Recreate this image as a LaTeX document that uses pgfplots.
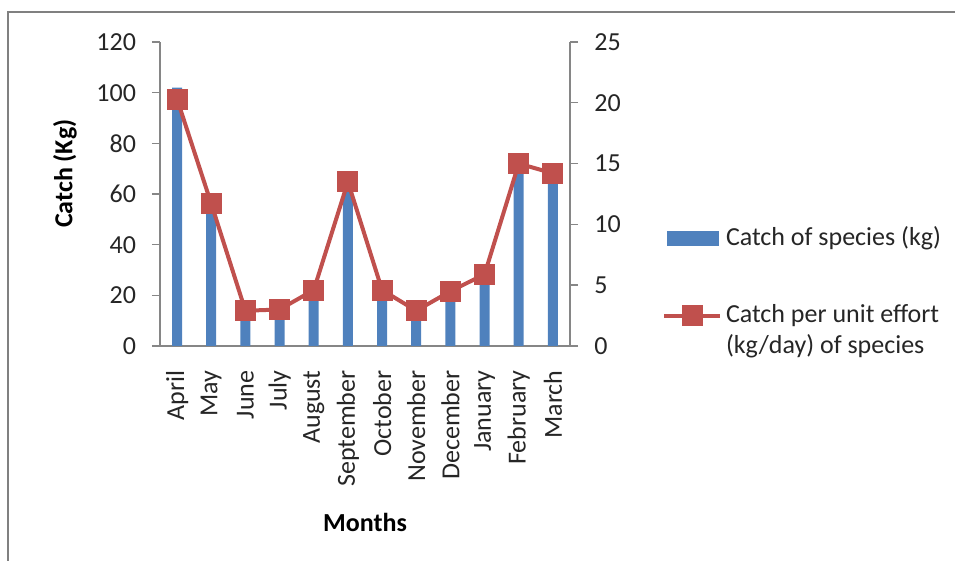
\documentclass[border=0pt]{standalone}
\usepackage{fontspec}
\setmainfont{Carlito}
\usepackage{pgfplots}
\pgfplotsset{compat=1.18}

\definecolor{barblue}{HTML}{4F81BD}
\definecolor{linered}{HTML}{C0504D}
\definecolor{axisgray}{HTML}{868686}
\definecolor{framegray}{HTML}{808080}

% shared geometry of both axes (1px of the reference = 0.5pt)
\pgfplotsset{
  chartbase/.style={
    scale only axis, width=205pt, height=152pt,
    at={(80pt,107.5pt)}, anchor=south west,
    xmin=-0.5, xmax=11.5,
    axis line style={axisgray, line width=0.7pt},
    tick style={axisgray, line width=0.7pt},
    tick align=outside, major tick length=4pt,
    tick label style={font=\fontsize{13}{15.5}\selectfont, text=black!85},
    /pgf/number format/assume math mode=true,
  },
  linelegend/.style={
    legend image code/.code={\draw[mark repeat=2, mark phase=2, ##1]
      plot coordinates {(0pt,3.5pt) (14pt,3.5pt) (28pt,3.5pt)};}
  },
  barlegend/.style={
    legend image code/.code={\fill[barblue] (1.5pt,0pt) rectangle (27pt,7pt);}
  },
}

\begin{document}
\begin{tikzpicture}
\begin{axis}[chartbase,
  axis x line*=bottom, axis y line*=left,
  ymin=0, ymax=120, ytick={0,20,...,120},
  xtick={0,...,11},
  xticklabels={April,May,June,July,August,September,October,November,December,January,February,March},
  major x tick style={draw=none},
  x tick label style={yshift=-4.7pt, rotate=90, anchor=east},
  y tick label style={xshift=-4.5pt},
  xlabel={Months}, ylabel={Catch (Kg)},
  label style={font=\fontsize{13}{15.5}\selectfont\bfseries},
  xlabel style={at={(axis description cs:0.5,-0.582)}, anchor=center},
  ylabel style={at={(axis description cs:-0.232,0.567)}, anchor=center},
]
\addplot[ybar, bar width=5pt, fill=barblue, draw=none] coordinates {
  (0,102) (1,55) (2,12) (3,13) (4,20) (5,62)
  (6,20) (7,12) (8,20) (9,26) (10,69) (11,65)
};
\end{axis}

\begin{axis}[chartbase,
  axis y line*=right, axis x line=none,
  ymin=0, ymax=25, ytick={0,5,...,25},
  y tick label style={xshift=4.7pt},
  legend style={at={(rel axis cs:1.2244,0.394)}, anchor=north west,
    draw=none, fill=none, inner sep=0pt, outer sep=0pt,
    row sep=26.5pt, column sep=2pt,
    font=\fontsize{13}{15.5}\selectfont, text=black!85,
    cells={anchor=base west}, nodes={inner sep=0pt}},
]
\addlegendimage{barlegend}
\addlegendentry{Catch of species (kg)}
\addplot[linered, line width=2pt, mark=square*, mark size=5pt,
  mark options={fill=linered, draw=linered, line width=0.5pt}, linelegend]
  coordinates {
  (0,20.3) (1,11.7) (2,2.9) (3,3.0) (4,4.6) (5,13.5)
  (6,4.6) (7,2.9) (8,4.5) (9,5.9) (10,15.0) (11,14.2)
};
\addlegendentry{\begin{tabular}[t]{@{}l@{}}Catch per unit effort\\(kg/day) of species\end{tabular}}
\end{axis}

\draw[framegray, line width=1pt] (3.75pt,-10pt) -- (3.75pt,274.5pt) -- (490pt,274.5pt);
\pgfresetboundingbox
\path[use as bounding box] (0,0) rectangle (477.5pt,280.5pt);
\end{tikzpicture}
\end{document}
